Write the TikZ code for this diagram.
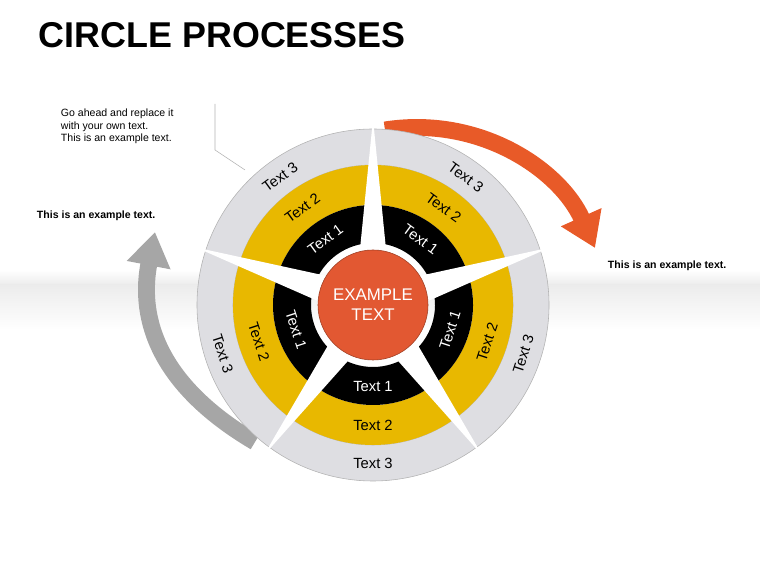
\documentclass[tikz,border=0pt]{standalone}
\usepackage{fontspec}
\setmainfont{Liberation Sans}
\usetikzlibrary{arrows.meta}
\definecolor{ringgray}{RGB}{222,222,226}
\definecolor{ringyellow}{RGB}{232,184,0}
\definecolor{hubred}{RGB}{226,88,50}
\definecolor{arroworange}{RGB}{232,90,40}
\tikzset{
  seg-text/.style={font=\fontsize{10.5}{12}\selectfont, inner sep=1pt},
  note/.style={font=\fontsize{7.5}{9}\selectfont, align=left},
  note-bold/.style={font=\bfseries\fontsize{7.5}{9}\selectfont},
  big-arrow/.style={line width=12pt, -{Triangle[width=30pt,length=24pt]}}
}
\newcommand{\ringseg}[4]{% start angle, end angle, inner r, outer r
  (#1:#4) arc[start angle=#1, end angle=#2, radius=#4] -- (#2:#3)
  arc[start angle=#2, end angle=#1, radius=#3] -- cycle
}
\begin{document}
\begin{tikzpicture}[x=0.025cm, y=0.025cm]
  \useasboundingbox (0,0) rectangle (760,570);
  \shade[top color=white, bottom color=gray!15] (0,300) rectangle (760,285);
  \shade[top color=gray!15, bottom color=white] (0,285) rectangle (760,240);

  % Title
  \node[anchor=west, font=\bfseries\fontsize{25.5}{27}\selectfont] (title) at (34,535) {CIRCLE PROCESSES};

  % Arrows behind the wheel
  \coordinate (orange-start) at (385,440);
  \coordinate (orange-end) at (595,322);
  \draw[big-arrow, arroworange] (orange-start) .. controls (480,455) and (560,400) .. (orange-end);
  \coordinate (gray-start) at (255,128);
  \coordinate (gray-end) at (155,338);
  \draw[big-arrow, gray!70] (gray-start) .. controls (150,190) and (140,260) .. (gray-end);

  \begin{scope}[shift={(373,265)}]
    \foreach \a in {126,54,-18,-90,-162} {
      \fill[ringgray, draw=gray!60] \ringseg{\a-36}{\a+36}{140}{176};
      \fill[ringyellow] \ringseg{\a-36}{\a+36}{100}{140};
      \fill[black] \ringseg{\a-36}{\a+36}{62}{100};
    }
    % white gaps between the segments
    \foreach \s in {90,18,-54,-126,162}
      \fill[white] (\s:186) -- (\s+16:50) -- (\s-16:50) -- cycle;
    \node[circle, fill=hubred, draw=hubred!70!black, inner sep=0pt,
      minimum size=2.75cm, text=white, align=center, font=\fontsize{12}{14}\selectfont] (hub) at (0,0) {EXAMPLE\\TEXT};
    \foreach \a/\r [count=\i] in {126/36,54/-36,-18/72,-90/0,-162/-72} {
      \node[seg-text, rotate=\r] (t3-\i) at (\a:158) {Text 3};
      \node[seg-text, rotate=\r] (t2-\i) at (\a:120) {Text 2};
      \node[seg-text, text=white, rotate=\r] (t1-\i) at (\a:81) {Text 1};
    }
  \end{scope}

  % Notes
  \node[note, anchor=north west] (note-top) at (56,466) {Go ahead and replace it\\with your own text.\\This is an example text.};
  \coordinate (call-top) at (215,466);
  \coordinate (call-bot) at (215,420);
  \coordinate (call-end) at (245,400);
  \draw[gray!60] (call-top) -- (call-bot) -- (call-end);
  \node[note-bold, anchor=west] (note-left) at (32,354) {This is an example text.};
  \node[note-bold, anchor=west] (note-right) at (603,304) {This is an example text.};
\end{tikzpicture}
\end{document}
